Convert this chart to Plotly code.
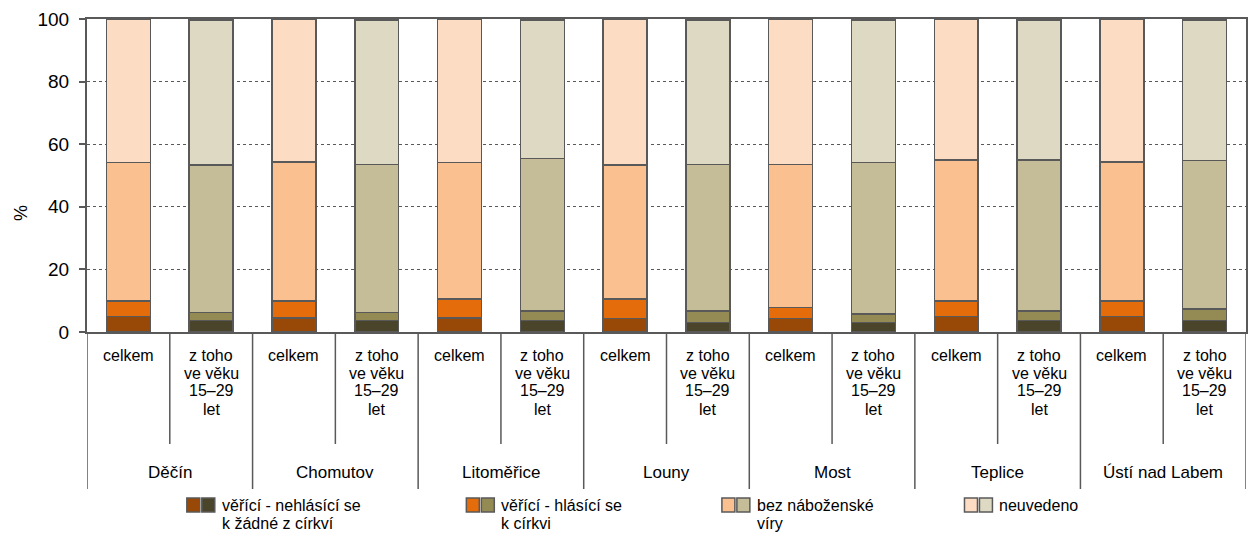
import plotly.graph_objects as go

# ---------------- data ----------------
districts = ["Děčín", "Chomutov", "Litoměřice", "Louny", "Most", "Teplice", "Ústí nad Labem"]
subgroups = ["celkem", "z toho ve věku 15–29 let"]
subgroup_lines = [["celkem"], ["z toho", "ve věku", "15–29", "let"]]

series_names = ["věřící - nehlásící se k žádné z církví", "věřící - hlásící se k církvi",
                "bez náboženské víry", "neuvedeno"]
legend_lines = [["věřící - nehlásící se", "k žádné z církví"], ["věřící - hlásící se", "k církvi"],
                ["bez náboženské", "víry"], ["neuvedeno"]]

# celkem (%)
nehl_celkem = [4.9, 4.4, 4.4, 4.3, 4.3, 4.9, 4.9]
hl_celkem = [5.0, 5.5, 6.2, 6.3, 3.6, 5.0, 5.0]
bez_celkem = [44.2, 44.4, 43.5, 42.8, 45.6, 45.0, 44.4]
neuv_celkem = [45.9, 45.7, 45.9, 46.6, 46.5, 45.1, 45.7]

# z toho ve věku 15–29 let (%)
nehl_mladi = [3.6, 3.6, 3.6, 3.0, 3.0, 3.6, 3.6]
hl_mladi = [2.6, 2.7, 3.1, 3.7, 2.7, 3.1, 3.8]
bez_mladi = [47.2, 47.2, 48.7, 46.8, 48.5, 48.2, 47.4]
neuv_mladi = [46.3, 46.2, 44.3, 46.2, 45.5, 44.8, 44.9]

yticks = [0, 20, 40, 60, 80, 100]

# ---------------- styling ----------------
colors_celkem = ["#984807", "#E46C0A", "#FAC090", "#FCDCC3"]
colors_mladi = ["#4A452A", "#948A54", "#C4BD97", "#DDD9C3"]
EDGE = "#595959"
FONT = "Liberation Sans, Arial, sans-serif"
W, H = 1250, 539
ML, MR, MT, MB = 87, 2, 19, 207
PW, PH = W - ML - MR, H - MT - MB


def px_x(px):
    return (px - ML) / PW


def px_y(py):
    return (H - MB - py) / PH


cats_celkem = [f"{d} | {subgroups[0]}" for d in districts]
cats_mladi = [f"{d} | {subgroups[1]}" for d in districts]
cat_order = [c for pair in zip(cats_celkem, cats_mladi) for c in pair]

fig = go.Figure()
for name, vals, col in zip(series_names, [nehl_celkem, hl_celkem, bez_celkem, neuv_celkem], colors_celkem):
    fig.add_trace(go.Bar(x=cats_celkem, y=vals, name=name, marker=dict(color=col, line=dict(color=EDGE, width=1.5)),
                         showlegend=False))
for name, vals, col in zip(series_names, [nehl_mladi, hl_mladi, bez_mladi, neuv_mladi], colors_mladi):
    fig.add_trace(go.Bar(x=cats_mladi, y=vals, name=name + " (15–29)",
                         marker=dict(color=col, line=dict(color=EDGE, width=1.5)), showlegend=False))

fig.update_layout(
    width=W, height=H, barmode="stack", bargap=0.47,
    margin=dict(l=ML, r=MR, t=MT, b=MB),
    plot_bgcolor="white", paper_bgcolor="white",
    font=dict(family=FONT, size=16, color="black"),
    showlegend=False,
)
fig.update_xaxes(type="category", categoryorder="array", categoryarray=cat_order, showticklabels=False,
                 showline=True, linecolor=EDGE, linewidth=2, mirror=True, ticks="", showgrid=False,
                 range=[-0.5, len(cat_order) - 0.5])
fig.update_yaxes(range=[0, 100], tickvals=yticks, ticks="outside", ticklen=6, tickcolor=EDGE, tickwidth=1.5,
                 showline=True, linecolor=EDGE, linewidth=2, mirror=True,
                 showgrid=True, gridcolor="#595959", griddash="dot", gridwidth=1,
                 tickfont=dict(size=19, family=FONT), zeroline=False, ticklabelstandoff=6)

annotations = []
shapes = []

# y-axis title
annotations.append(dict(text="%", x=px_x(21), y=px_y(213), xref="paper", yref="paper", showarrow=False,
                        textangle=-90, font=dict(size=18, family=FONT), xanchor="center", yanchor="middle"))

# subgroup labels (one line per annotation)
for i, d in enumerate(districts):
    for j, lines in enumerate(subgroup_lines):
        cat = f"{d} | {subgroups[j]}"
        for k, line in enumerate(lines):
            annotations.append(dict(text=line, x=cat, xref="x", y=px_y(355 + 18 * k), yref="paper",
                                    showarrow=False, xanchor="center", yanchor="middle",
                                    font=dict(size=16, family=FONT)))
    annotations.append(dict(text=d, x=2 * i + 0.5, xref="x", y=px_y(472), yref="paper", showarrow=False,
                            xanchor="center", yanchor="middle", font=dict(size=17, family=FONT)))

# dividers below the axis
for i in range(len(districts) + 1):
    shapes.append(dict(type="line", xref="x", yref="paper", x0=2 * i - 0.5, x1=2 * i - 0.5,
                       y0=0, y1=px_y(489), line=dict(color=EDGE, width=1.5)))
for i in range(len(districts)):
    shapes.append(dict(type="line", xref="x", yref="paper", x0=2 * i + 0.5, x1=2 * i + 0.5,
                       y0=0, y1=px_y(444), line=dict(color=EDGE, width=1.5)))

# custom legend (pairs of swatches)
legend_left = [187, 467, 723, 966]
for lx, lines, c1, c2 in zip(legend_left, legend_lines, colors_celkem, colors_mladi):
    for off, col in ((0, c1), (15, c2)):
        shapes.append(dict(type="rect", xref="paper", yref="paper",
                           x0=px_x(lx + off), x1=px_x(lx + off + 13), y0=px_y(512), y1=px_y(498),
                           fillcolor=col, line=dict(color=EDGE, width=1.5)))
    for k, line in enumerate(lines):
        annotations.append(dict(text=line, x=px_x(lx + 33), y=px_y(505 + 18 * k), xref="paper", yref="paper",
                                showarrow=False, xanchor="left", yanchor="middle",
                                font=dict(size=16, family=FONT)))

fig.update_layout(annotations=annotations, shapes=shapes)
fig.write_html("out.html", config={"displayModeBar": False},
               post_script="document.body.style.margin='0';")
